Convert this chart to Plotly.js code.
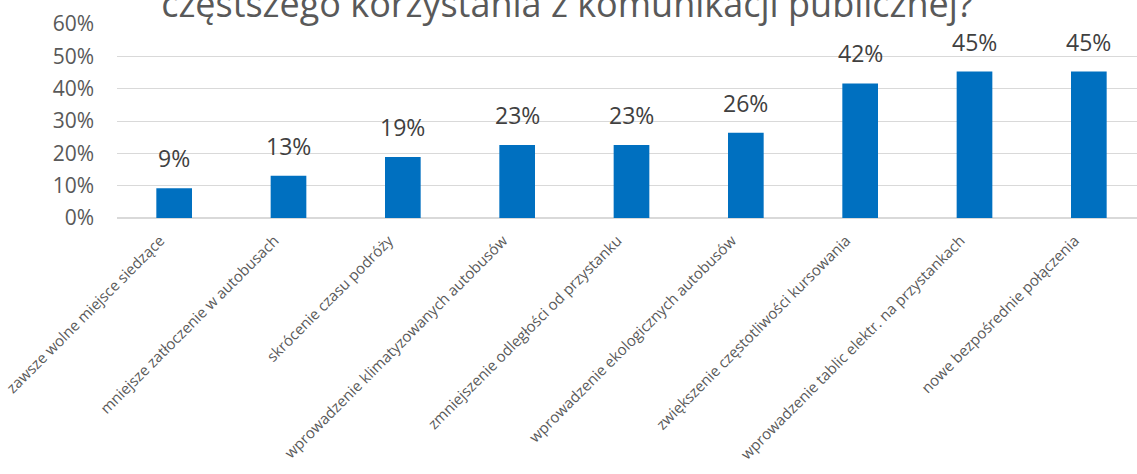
<!DOCTYPE html>
<html>
<head>
<meta charset="utf-8">
<script src="https://cdn.plot.ly/plotly-3.0.1.min.js"></script>
<style>
html,body{margin:0;padding:0;overflow:hidden;background:#fff;}
#chart{width:1146px;height:474px;}
</style>
</head>
<body>
<div id="chart"></div>
<script>
const categories = [
  "zawsze wolne miejsce siedzące",
  "mniejsze zatłoczenie w autobusach",
  "skrócenie czasu podróży",
  "wprowadzenie klimatyzowanych autobusów",
  "zmniejszenie odległości od przystanku",
  "wprowadzenie ekologicznych autobusów",
  "zwiększenie częstotliwości kursowania",
  "wprowadzenie tablic elektr. na przystankach",
  "nowe bezpośrednie połączenia"
];
const values = [0.092, 0.131, 0.189, 0.226, 0.226, 0.264, 0.416, 0.453, 0.453];
const titleText = "częstszego korzystania z komunikacji publicznej?";

const trace = {
  type: "bar",
  x: categories,
  y: values,
  marker: {color: "#0070C0"},
  hoverinfo: "x+y"
};

const annotations = categories.map((c, i) => ({
  x: c, y: values[i], xref: "x", yref: "y",
  text: Math.round(values[i] * 100) + "%",
  showarrow: false, yanchor: "bottom", yshift: 12,
  font: {family: "Open Sans", size: 23, color: "#404040"}
}));

const layout = {
  width: 1146, height: 474,
  margin: {l: 117, r: 0, t: 24, b: 256},
  paper_bgcolor: "#fff", plot_bgcolor: "#fff",
  bargap: 0.688,
  showlegend: false,
  title: {
    text: titleText,
    x: 0.495, xanchor: "center",
    y: 0.991, yanchor: "middle", yref: "container",
    font: {family: "Open Sans", size: 36, color: "#595959"}
  },
  xaxis: {
    type: "category",
    tickangle: -45,
    tickfont: {family: "Open Sans", size: 15, color: "#595959"},
    showgrid: false, showline: false, zeroline: false, ticks: "",
    ticklabelshift: -14, ticklabelstandoff: 10
  },
  yaxis: {
    range: [0, 0.6],
    dtick: 0.1, tick0: 0,
    tickformat: ".0%",
    tickfont: {family: "Open Sans", size: 21, color: "#595959"},
    showgrid: true, gridcolor: "#D9D9D9", gridwidth: 1.3,
    zeroline: true, zerolinecolor: "#D9D9D9", zerolinewidth: 1.5,
    showline: false, ticks: "", ticklabelstandoff: 22
  },
  annotations: annotations
};

Plotly.newPlot("chart", [trace], layout, {displayModeBar: false});
</script>
</body>
</html>
